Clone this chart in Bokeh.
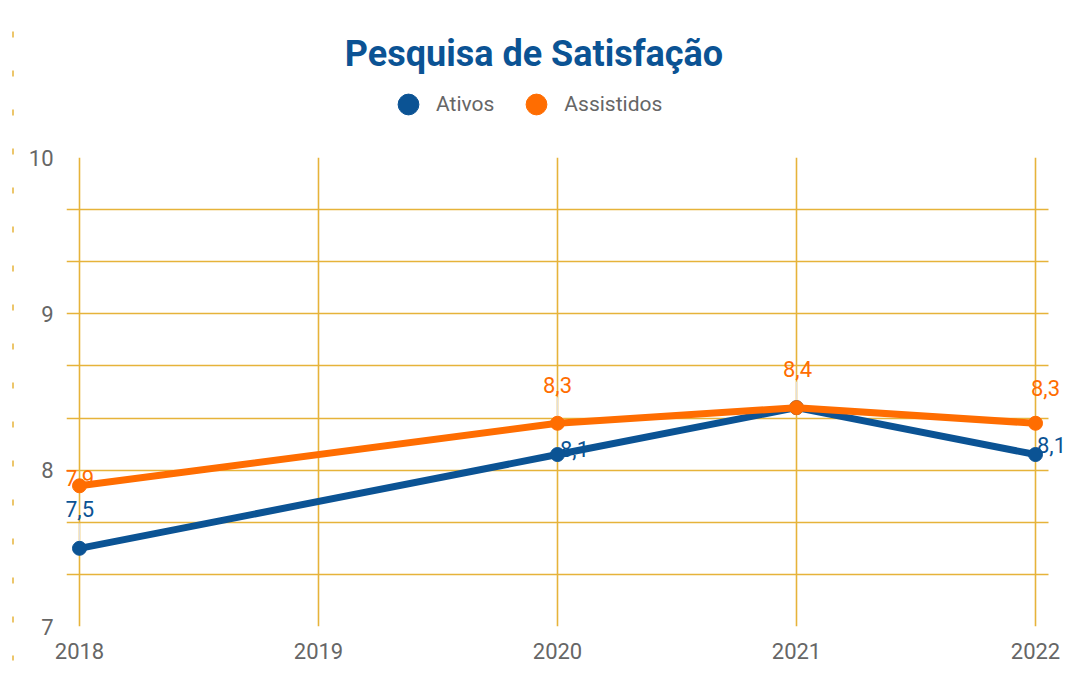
from bokeh.plotting import figure
from bokeh.models import (ColumnDataSource, FixedTicker, Legend, LegendItem,
                          LabelSet, Label, Range1d, BoxAnnotation)
from bokeh.layouts import row, column
from bokeh.core.properties import value
from bokeh.embed import file_html
from bokeh.resources import INLINE

# ---- data ----
years = [2018, 2020, 2021, 2022]
ativos = [7.5, 8.1, 8.4, 8.1]
assistidos = [7.9, 8.3, 8.4, 8.3]
ativos_labels = ["7,5", "8,1", "", "8,1"]
assistidos_labels = ["7,9", "8,3", "8,4", "8,3"]
x_ticks = [2018, 2019, 2020, 2021, 2022]
y_ticks = [7, 8, 9, 10]
y_minor = [7 + 1/3, 7 + 2/3, 8 + 1/3, 8 + 2/3, 9 + 1/3, 9 + 2/3]
series_names = ["Ativos", "Assistidos"]
title_text = "Pesquisa de Satisfação"

# ---- styles ----
BLUE = "#0b5394"
ORANGE = "#ff6d01"
GOLD = "#e6b33a"
GRAY = "#666666"
FONT = "Roboto"

# label placement (screen px) and connector lengths (px)
ativos_dx = [0, 17, 0, 16]
ativos_dy = [39, 6, 0, 10]
ativos_conn = [25, 0, 0, 0]
assist_dx = [0, 0, 1, 10]
assist_dy = [8, 38, 39, 35]
assist_conn = [0, 26, 26, 0]

FRAME_H = 469
PX_PER_UNIT = FRAME_H / 3.0
YEAR_PX = 239.0

W_MAIN = 1049
H_HEAD = 142
H_MAIN = 674 - H_HEAD

# ---------------- main chart ----------------
p = figure(width=W_MAIN, height=H_MAIN,
           x_range=Range1d(2018 - 13 / YEAR_PX, 2022 + 32 / YEAR_PX),
           y_range=Range1d(7, 10),
           output_backend="svg", toolbar_location=None,
           min_border_left=48, min_border_right=0,
           min_border_top=15, min_border_bottom=48)
p.outline_line_color = None
p.background_fill_color = "white"

p.xaxis.ticker = FixedTicker(ticks=x_ticks)
p.yaxis.ticker = FixedTicker(ticks=y_ticks, minor_ticks=y_minor)
for ax in (p.xaxis, p.yaxis):
    ax.axis_line_color = None
    ax.major_tick_line_color = None
    ax.minor_tick_line_color = None
    ax.major_label_text_font = FONT
    ax.major_label_text_font_size = "22px"
    ax.major_label_text_color = GRAY
p.xaxis.major_label_standoff = 10
p.yaxis.major_label_standoff = 7

p.xgrid.grid_line_color = GOLD
p.xgrid.grid_line_width = 1.6
p.ygrid.grid_line_color = GOLD
p.ygrid.grid_line_width = 1.6
p.ygrid.minor_grid_line_color = GOLD
p.ygrid.minor_grid_line_width = 1.6

# hide the horizontal grid beyond the last year's margin (room for labels)
p.add_layout(BoxAnnotation(left=2022 + 13 / YEAR_PX, fill_color="white",
                           fill_alpha=1, line_color=None, level="underlay"))

def conn_top(vals, conn):
    return [v + c / PX_PER_UNIT for v, c in zip(vals, conn)]

src_a = ColumnDataSource(dict(x=years, y=ativos, label=ativos_labels,
                              dx=ativos_dx, dy=ativos_dy,
                              y1=conn_top(ativos, ativos_conn)))
src_b = ColumnDataSource(dict(x=years, y=assistidos, label=assistidos_labels,
                              dx=assist_dx, dy=assist_dy,
                              y1=conn_top(assistidos, assist_conn)))

p.segment(x0="x", y0="y", x1="x", y1="y1", source=src_a, line_color="#dddddd", line_width=1)
p.segment(x0="x", y0="y", x1="x", y1="y1", source=src_b, line_color="#dddddd", line_width=1)

p.line("x", "y", source=src_a, line_color=BLUE, line_width=7)
p.scatter("x", "y", source=src_a, size=14, fill_color=BLUE, line_color=BLUE)
p.line("x", "y", source=src_b, line_color=ORANGE, line_width=7)
p.scatter("x", "y", source=src_b, size=14, fill_color=ORANGE, line_color=ORANGE)

for src, col in ((src_a, BLUE), (src_b, ORANGE)):
    p.add_layout(LabelSet(x="x", y="y", text="label", source=src,
                          x_offset="dx", y_offset="dy",
                          text_align="center", text_baseline="middle",
                          text_font=value(FONT), text_font_size=value("22px"),
                          text_color=col))

# ---------------- header: title + legend ----------------
# header frame is aligned with the main frame (page x 66 .. 1067)
h = figure(width=W_MAIN, height=H_HEAD, x_range=Range1d(66, 1067),
           y_range=Range1d(H_HEAD, 0), output_backend="svg",
           toolbar_location=None, min_border=0,
           x_axis_location=None, y_axis_location=None)
h.grid.visible = False
h.outline_line_color = None
h.add_layout(Label(x=533.5, y=53, text=title_text, text_align="center",
                   text_baseline="middle", text_font=FONT, text_font_size="36px",
                   text_font_style="bold", text_color=BLUE))
# legend proxies (placed outside the visible range; only their legend glyphs show)
ra = h.scatter(x=[-5000], y=[-5000], size=14, fill_color=BLUE, line_color=BLUE)
rb = h.scatter(x=[-5000], y=[-5000], size=14, fill_color=ORANGE, line_color=ORANGE)
legend = Legend(items=[LegendItem(label=series_names[0], renderers=[ra]),
                       LegendItem(label=series_names[1], renderers=[rb])],
                location=(316, 12), orientation="horizontal",
                glyph_width=52, glyph_height=52, label_standoff=2, spacing=16,
                padding=0, margin=0, border_line_color=None,
                background_fill_alpha=0,
                label_text_font=FONT, label_text_font_size="21px",
                label_text_color=GRAY)
h.add_layout(legend)

# ---------------- left dashed decoration ----------------
d = figure(width=18, height=674, x_range=Range1d(0, 18), y_range=Range1d(674, 0),
           output_backend="svg", toolbar_location=None, min_border=0,
           x_axis_location=None, y_axis_location=None)
d.grid.visible = False
d.outline_line_color = None
d.segment(x0=[12.5], y0=[31], x1=[12.5], y1=[660], line_color=GOLD,
          line_width=1.5, line_dash="6 33")

layout = row(d, column(h, p))
open("out.html", "w").write(file_html(layout, INLINE))
